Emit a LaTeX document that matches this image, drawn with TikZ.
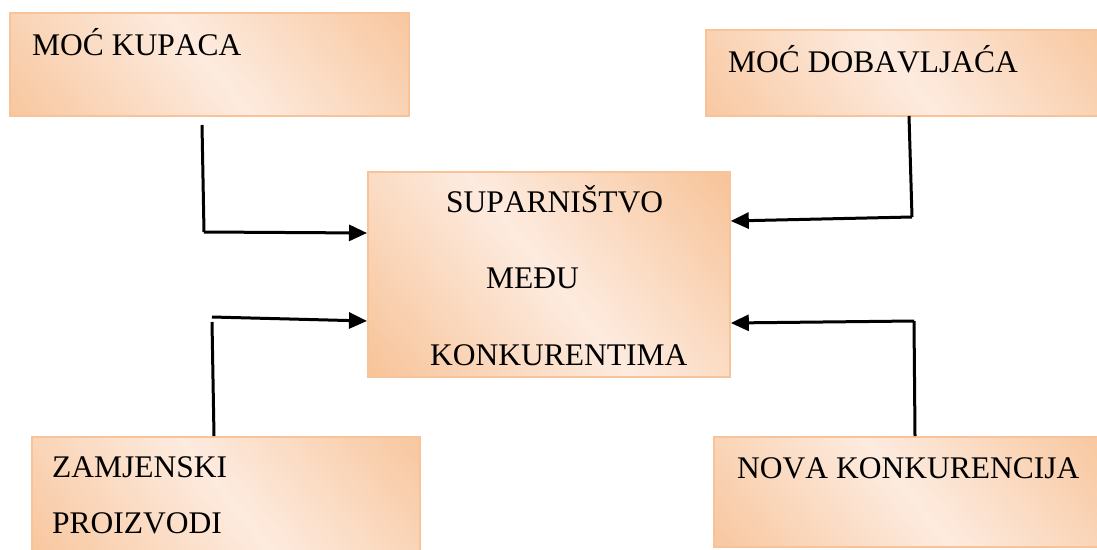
\documentclass[tikz,border=0pt]{standalone}
\usepackage{fontspec}
\setmainfont{Liberation Serif}[Kerning=Off]
\usetikzlibrary{arrows.meta}
\definecolor{peach}{HTML}{F6B986}
\definecolor{pale}{HTML}{FDEBDF}
\definecolor{edge}{HTML}{F9C39A}
\pgfdeclarehorizontalshading{boxshade}{100bp}{color(0bp)=(peach); color(31bp)=(peach); color(50bp)=(pale); color(69bp)=(peach); color(100bp)=(peach)}
\tikzset{
  box/.style={draw=edge, line width=1.8pt, inner sep=0pt, anchor=north west,
    path picture={
      \shade[shading=boxshade, shading angle=39]
        ([shift={(-340pt,-340pt)}]path picture bounding box.center) rectangle ++(680pt,680pt);}},
  lbl/.style={inner sep=0pt, anchor=base west, font=\fontsize{31.5pt}{36pt}\selectfont},
  arr/.style={line width=3pt, -{Triangle[length=18pt,width=16pt]}},
  seg/.style={line width=3pt}
}
\begin{document}
\begin{tikzpicture}[x=1pt,y=-1pt]
\useasboundingbox (0,0) rectangle (1097,549);
% boxes
\node[box, minimum width=399pt, minimum height=103pt] (kup) at (9,12) {};
\node[box, minimum width=395pt, minimum height=86pt] (dob) at (705,29) {};
\node[box, minimum width=362pt, minimum height=205pt] (sup) at (367,171) {};
\node[box, minimum width=388pt, minimum height=116pt] (zam) at (31,436) {};
\node[box, minimum width=387pt, minimum height=110pt] (nov) at (713,436) {};
% labels
\node[lbl] (tkup) at (32,55) {MOĆ KUPACA};
\node[lbl] (tdob) at (728,72) {MOĆ DOBAVLJAĆA};
\node[lbl] (tsup1) at (446,212) {SUPARNIŠTVO};
\node[lbl] (tsup2) at (486,288) {MEĐU};
\node[lbl] (tsup3) at (430,365) {KONKURENTIMA};
\node[lbl] (tzam1) at (52,477) {ZAMJENSKI};
\node[lbl] (tzam2) at (52,533) {PROIZVODI};
\node[lbl] (tnov) at (737,478) {NOVA KONKURENCIJA};
% connector points
\coordinate (k1) at (202,125);
\coordinate (k2) at (204,232);
\coordinate (k3) at (sup.west |- 0,233);
\coordinate (d1) at (909,116);
\coordinate (d2) at (912,217);
\coordinate (d3) at (sup.east |- 0,221);
\coordinate (z1) at (214,436);
\coordinate (z2) at (212,317);
\coordinate (z3) at (sup.west |- 0,321);
\coordinate (n1) at (915,436);
\coordinate (n2) at (914,321);
\coordinate (n3) at (sup.east |- 0,323);
% connectors
\draw[seg] (k1) -- (k2);
\draw[arr] (k2) -- (k3);
\draw[seg] (d1) -- (d2);
\draw[arr] (d2) -- (d3);
\draw[seg] (z1) -- (z2 |- 0,322);
\draw[arr] (z2) -- (z3);
\draw[seg] (n1) -- (n2);
\draw[arr] (n2) -- (n3);
\end{tikzpicture}
\end{document}
